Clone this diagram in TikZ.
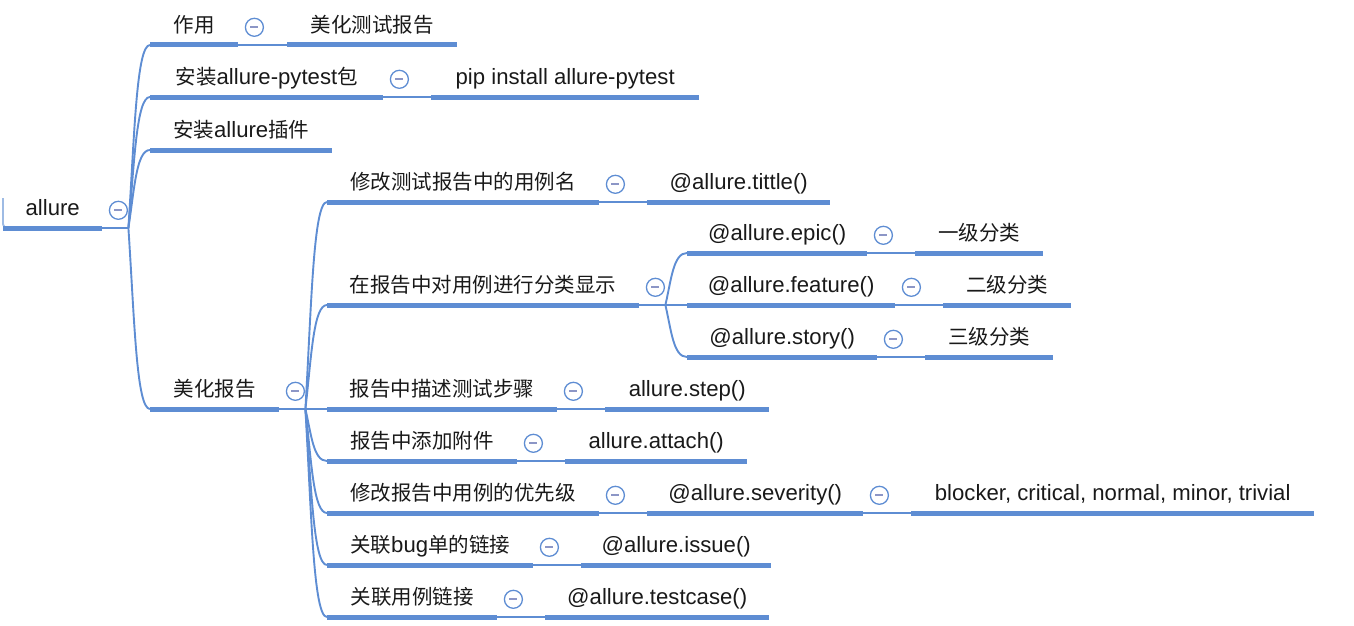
\documentclass[tikz,border=0pt]{standalone}
\usepackage{fontspec}
\usetikzlibrary{calc}
\setmainfont{Liberation Sans}[Scale=1.08]
\newfontfamily\cjk{Noto Sans CJK SC}
\definecolor{xmblue}{HTML}{5E8DD3}
\definecolor{xmdash}{HTML}{8C96C6}
\tikzset{
  topic/.style={anchor=south west, minimum width=#1, inner xsep=0pt, inner ysep=7pt,
    text height=16pt, text depth=5pt, text=black!90},
  uline/.style={xmblue, line width=5pt},
  conn/.style={xmblue, line width=1.9pt},
  fold/.style={circle, draw=xmblue, line width=1.3pt, fill=white, minimum size=18pt, inner sep=0pt,
    path picture={\draw[xmdash, line width=2pt] ([xshift=-4pt]path picture bounding box.center)
      -- ([xshift=4pt]path picture bounding box.center);}}
}
\begin{document}
\begin{tikzpicture}[x=1pt, y=-1pt, font=\fontsize{20.5pt}{24pt}\selectfont]
  \useasboundingbox (0,0) rectangle (1354,626);
  % root and first level
  \node[topic=99] (root) at (3,228) {allure};
  \node[topic=88] (zy) at (150,45) {\cjk 作用};
  \node[topic=233] (az) at (150,97) {{\cjk 安装}allure-pytest{\cjk 包}};
  \node[topic=182] (cj) at (150,150) {{\cjk 安装}allure{\cjk 插件}};
  \node[topic=129] (mh) at (150,409) {\cjk 美化报告};
  \node[topic=170] (zy1) at (287,45) {\cjk 美化测试报告};
  \node[topic=268] (az1) at (431,97) {pip install allure-pytest};
  % second level
  \node[topic=272] (ym) at (327,202) {\cjk 修改测试报告中的用例名};
  \node[topic=312] (fl) at (327,305) {\cjk 在报告中对用例进行分类显示};
  \node[topic=230] (bz) at (327,409) {\cjk 报告中描述测试步骤};
  \node[topic=190] (fj) at (327,461) {\cjk 报告中添加附件};
  \node[topic=272] (yx) at (327,513) {\cjk 修改报告中用例的优先级};
  \node[topic=206] (bg) at (327,565) {{\cjk 关联}bug{\cjk 单的链接}};
  \node[topic=170] (lj) at (327,617) {\cjk 关联用例链接};
  % leaves
  \node[topic=183] (tt) at (647,202) {@allure.tittle()};
  \node[topic=180] (ep) at (687,253) {@allure.epic()};
  \node[topic=208] (ft) at (687,305) {@allure.feature()};
  \node[topic=190] (st) at (687,357) {@allure.story()};
  \node[topic=128] (ep1) at (915,253) {\cjk 一级分类};
  \node[topic=128] (ft1) at (943,305) {\cjk 二级分类};
  \node[topic=128] (st1) at (925,357) {\cjk 三级分类};
  \node[topic=164] (sp) at (605,409) {allure.step()};
  \node[topic=182] (at) at (565,461) {allure.attach()};
  \node[topic=216] (sv) at (647,513) {@allure.severity()};
  \node[topic=403] (lv) at (911,513) {blocker, critical, normal, minor, trivial};
  \node[topic=190] (is) at (581,565) {@allure.issue()};
  \node[topic=224] (tc) at (545,617) {@allure.testcase()};
  % branches
  \coordinate (rootj) at ([xshift=26pt]root.south east);
  \coordinate (mhj) at ([xshift=26pt]mh.south east);
  \coordinate (flj) at ([xshift=26pt]fl.south east);
  \draw[conn] (root.south east) -- (rootj);
  \draw[conn] (mh.south east) -- (mhj);
  \draw[conn] (fl.south east) -- (flj);
  \foreach \j/\c in {rootj/zy,rootj/az,rootj/cj,rootj/mh,mhj/ym,mhj/fl,mhj/bz,mhj/fj,mhj/yx,mhj/bg,mhj/lj,flj/ep,flj/ft,flj/st}
    \draw[conn] (\j) .. controls ($(\j)!0.5!(\j |- \c.south west) + (6,0)$)
      and ($(\j |- \c.south west) + (8,0)$) .. (\c.south west);
  \foreach \a/\b in {zy/zy1,az/az1,ym/tt,ep/ep1,ft/ft1,st/st1,bz/sp,fj/at,yx/sv,sv/lv,bg/is,lj/tc}
    \draw[conn] (\a.south east) -- (\b.south west);
  \draw[conn, xmblue!60, rounded corners=4pt] ([yshift=30pt]root.south west) -- (root.south west)
    -- ([xshift=12pt]root.south west);
  % underlines and fold marks
  \foreach \n in {root,zy,az,cj,mh,zy1,az1,ym,fl,bz,fj,yx,bg,lj,tt,ep,ft,st,ep1,ft1,st1,sp,at,sv,lv,is,tc}
    \draw[uline] (\n.south west) -- (\n.south east);
  \foreach \n in {root,zy,az,mh,ym,fl,ep,ft,st,bz,fj,yx,sv,bg,lj}
    \node[fold] (f\n) at ([xshift=16pt]\n.east) {};
\end{tikzpicture}
\end{document}
